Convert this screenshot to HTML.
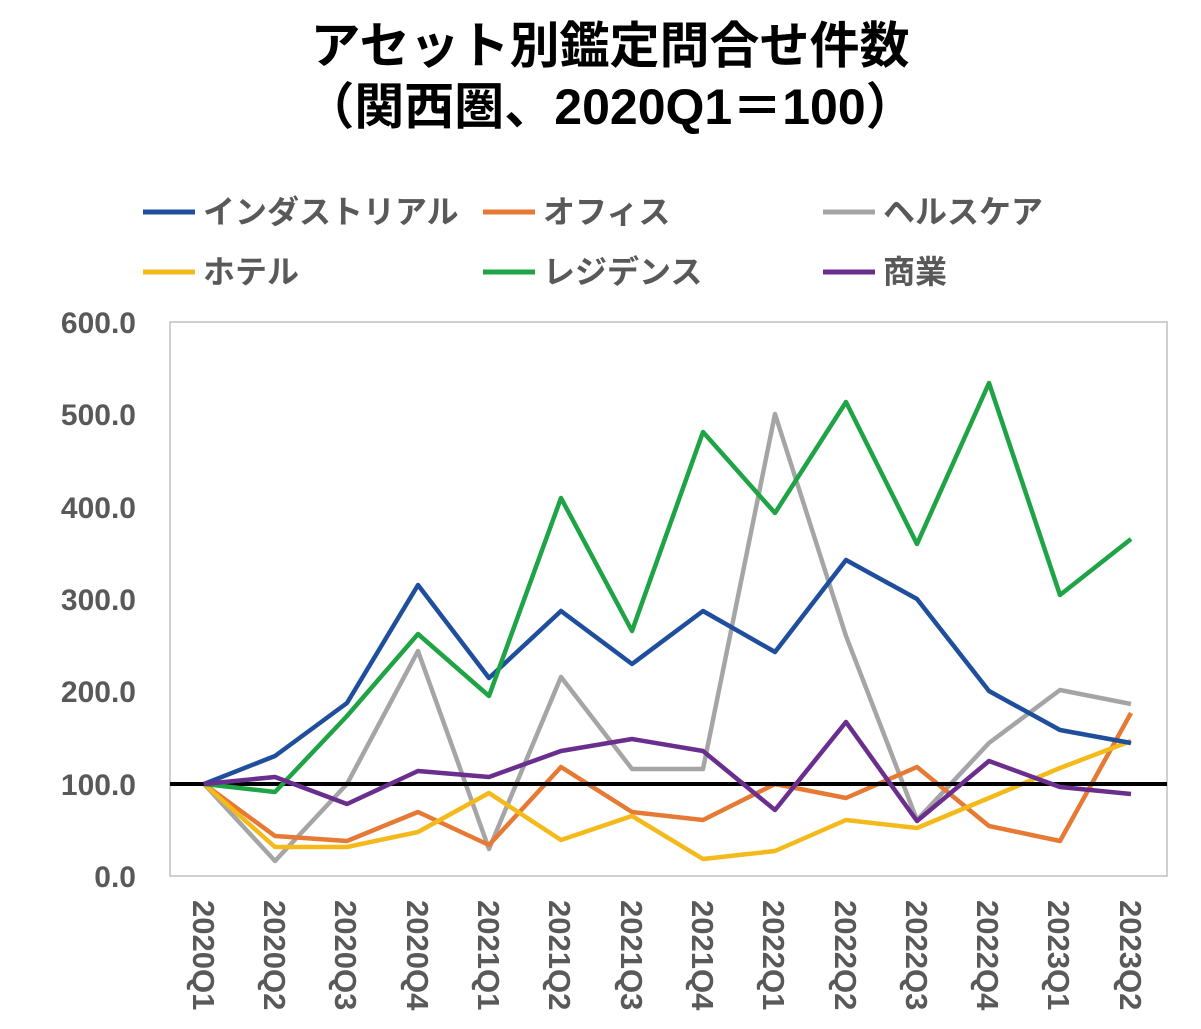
<!DOCTYPE html>
<html><head><meta charset="utf-8"><style>
body{margin:0;background:#fff}
svg{display:block}
text{font-family:"Liberation Sans","Noto Sans CJK JP",sans-serif;font-weight:bold}
</style></head><body>
<svg width="1201" height="1029" viewBox="0 0 1201 1029">
<text x="610" y="63" font-size="50" text-anchor="middle" fill="#000">アセット別鑑定問合せ件数</text>
<text x="610" y="124" font-size="50" text-anchor="middle" fill="#000">（関西圏、2020Q1＝100）</text>
<g font-size="32" fill="#595959">
<line x1="143" y1="212" x2="195" y2="212" stroke="#1f4e9c" stroke-width="5"/><text x="203" y="223">インダストリアル</text>
<line x1="483" y1="212" x2="535" y2="212" stroke="#e67a35" stroke-width="5"/><text x="543" y="223">オフィス</text>
<line x1="823" y1="212" x2="875" y2="212" stroke="#a5a5a5" stroke-width="5"/><text x="883" y="223">ヘルスケア</text>
<line x1="143" y1="272" x2="195" y2="272" stroke="#f4b91a" stroke-width="5"/><text x="203" y="283">ホテル</text>
<line x1="483" y1="272" x2="535" y2="272" stroke="#1ea345" stroke-width="5"/><text x="543" y="283">レジデンス</text>
<line x1="823" y1="272" x2="875" y2="272" stroke="#6a2f8e" stroke-width="5"/><text x="883" y="283">商業</text>
</g>
<rect x="170" y="322" width="997" height="554" fill="none" stroke="#bfbfbf" stroke-width="1.5"/>
<g font-size="30" fill="#595959" text-anchor="end">
<text x="136" y="333">600.0</text><text x="136" y="425">500.0</text><text x="136" y="518">400.0</text>
<text x="136" y="610">300.0</text><text x="136" y="702">200.0</text><text x="136" y="795">100.0</text><text x="136" y="887">0.0</text>
</g>
<g font-size="31" fill="#595959">
<text transform="translate(193,900) rotate(90)">2020Q1</text>
<text transform="translate(264,900) rotate(90)">2020Q2</text>
<text transform="translate(335,900) rotate(90)">2020Q3</text>
<text transform="translate(407,900) rotate(90)">2020Q4</text>
<text transform="translate(478,900) rotate(90)">2021Q1</text>
<text transform="translate(549,900) rotate(90)">2021Q2</text>
<text transform="translate(621,900) rotate(90)">2021Q3</text>
<text transform="translate(692,900) rotate(90)">2021Q4</text>
<text transform="translate(763,900) rotate(90)">2022Q1</text>
<text transform="translate(835,900) rotate(90)">2022Q2</text>
<text transform="translate(906,900) rotate(90)">2022Q3</text>
<text transform="translate(977,900) rotate(90)">2022Q4</text>
<text transform="translate(1048,900) rotate(90)">2023Q1</text>
<text transform="translate(1120,900) rotate(90)">2023Q2</text>
</g>
<g fill="none" stroke-width="4.5" stroke-linejoin="round">
<polyline stroke="#a5a5a5" points="204,784 275,861 347,784 418,651 489,849 561,677 632,769 703,769 775,414 846,636 917,820 989,743 1060,690 1131,704"/>
<polyline stroke="#e67a35" points="204,784 275,836 347,841 418,812 489,845 561,767 632,812 703,820 775,784 846,798 917,767 989,826 1060,841 1131,713"/>
<polyline stroke="#f4b91a" points="204,784 275,847 347,847 418,832 489,793 561,840 632,816 703,859 775,851 846,820 917,828 989,798 1060,768 1131,741"/>
<line x1="170" y1="784" x2="1167" y2="784" stroke="#000" stroke-width="4"/>
<polyline stroke="#1f4e9c" points="204,784 275,756 347,703 418,585 489,678 561,611 632,664 703,611 775,652 846,560 917,599 989,691 1060,730 1131,743"/>
<polyline stroke="#1ea345" points="204,784 275,792 347,716 418,634 489,696 561,498 632,631 703,432 775,513 846,402 917,544 989,383 1060,595 1131,539"/>
<polyline stroke="#6a2f8e" points="204,784 275,777 347,804 418,771 489,777 561,751 632,739 703,751 775,810 846,722 917,821 989,761 1060,787 1131,794"/>
</g>
</svg>
</body></html>
